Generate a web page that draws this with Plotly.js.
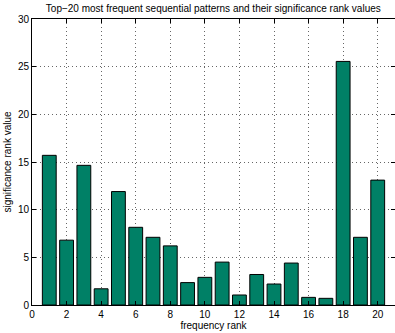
<!DOCTYPE html>
<html><head><meta charset="utf-8">
<script src="https://cdn.plot.ly/plotly-3.0.1.min.js"></script>
<style>html,body{margin:0;padding:0;background:#fff}#c{width:395px;height:333px}</style>
</head><body><div id="c"></div>
<script>
const ranks = [1,2,3,4,5,6,7,8,9,10,11,12,13,14,15,16,17,18,19,20];
const significance = [15.7,6.8,14.65,1.7,11.9,8.15,7.1,6.2,2.35,2.9,4.5,1.05,3.2,2.2,4.4,0.8,0.7,25.55,7.1,13.1];
const xTicks = [0,2,4,6,8,10,12,14,16,18,20];
const yTicks = [0,5,10,15,20,25,30];
const font = {family:'Liberation Sans, Arial, Helvetica, sans-serif', size:10, color:'#000'};
Plotly.newPlot('c', [{
  type:'bar', x:ranks, y:significance, width:0.8,
  marker:{color:'#008066', line:{color:'#000', width:1}}
}], {
  width:395, height:333,
  margin:{l:32, r:0, t:19, b:28},
  paper_bgcolor:'#fff', plot_bgcolor:'#fff',
  font:font,
  showlegend:false,
  title:{text:'Top\u221220 most frequent sequential patterns and their significance rank values', font:{family:font.family,size:10,color:'#000'}, x:0.54, xanchor:'center', y:0.985, yanchor:'top'},
  xaxis:{range:[0,21], tickvals:xTicks, ticktext:xTicks.map(String), showline:true, linecolor:'#000', linewidth:1, mirror:'ticks', ticks:'inside', ticklen:4, tickcolor:'#000', showgrid:true, gridcolor:'#666', griddash:'1px,3px', gridwidth:1, zeroline:false,
    title:{text:'frequency rank', font:{family:font.family,size:10,color:'#000'}, standoff:2}, tickfont:font},
  yaxis:{range:[0,30], tickvals:yTicks, ticktext:yTicks.map(String), showline:true, linecolor:'#000', linewidth:1, mirror:'ticks', ticks:'inside', ticklen:4, tickcolor:'#000', showgrid:true, gridcolor:'#666', griddash:'1px,3px', gridwidth:1, zeroline:false,
    title:{text:'significance rank value', font:{family:font.family,size:10,color:'#000'}, standoff:4}, tickfont:font}
}, {displayModeBar:false, staticPlot:true});
</script></body></html>
